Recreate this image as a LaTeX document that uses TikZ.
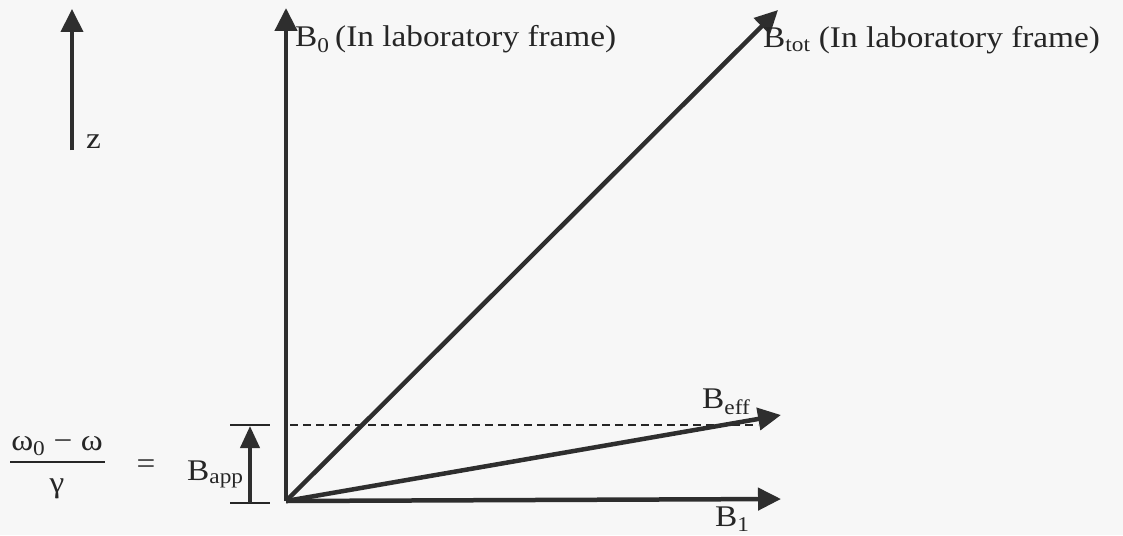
\documentclass[tikz,border=0pt]{standalone}
\usepackage{fontspec}
\usepackage{graphicx}
\setmainfont{Liberation Serif}
\usetikzlibrary{arrows.meta}
\newcommand{\hstretch}[1]{\scalebox{1.11}[1]{#1}}
\begin{document}
\begin{tikzpicture}[x=1pt,y=-1pt,
  vec/.style={line width=4.5pt,draw={black!82},-{Triangle[length=23pt,width=22pt]}},
  lbl/.style={inner sep=0pt,anchor=base west,font=\fontsize{30}{36}\selectfont,text={black!85}},
  tick/.style={line width=1.8pt,draw={black!85}}]
\useasboundingbox (0,0) rectangle (1123,535);
\fill[white!97!black] (0,0) rectangle (1123,535);
% axis z
\coordinate (zs) at (72,150);
\coordinate (ze) at (72,9);
\draw[vec,line width=4pt] (zs) -- (ze);
\node[lbl] (z) at (86,148) {\hstretch{z}};
% origin and vectors
\coordinate (O) at (286,501);
\coordinate (B0t) at (286,8);
\coordinate (Btt) at (778,10);
\coordinate (Beft) at (781,415);
\coordinate (B1t) at (781,499);
\draw[line width=2.2pt,dash pattern=on 8pt off 5pt,draw={black!85}] (290,425) -- (758,425);
\draw[vec] (O) -- (B0t);
\draw[vec] (O) -- (Btt);
\draw[vec] (O) -- (Beft);
\draw[vec] (O) -- (B1t);
\node[lbl] (b0) at (295,47) {\hstretch{B\textsubscript{0}\,(In laboratory frame)}};
\node[lbl] (btot) at (763,48) {\hstretch{B\textsubscript{tot} (In laboratory frame)}};
\node[lbl] (beff) at (702,408) {\hstretch{B\textsubscript{eff}}};
\node[lbl] (b1) at (715,526) {\hstretch{B\textsubscript{1}}};
% B_app
\coordinate (ta) at (250,426);
\coordinate (tb) at (250,503);
\draw[tick] (230,425) -- (270,425);
\draw[tick] (230,503) -- (270,503);
\draw[line width=4pt,draw={black!82},-{Triangle[length=22pt,width=19pt]}] (tb) -- (ta);
\node[lbl] (bapp) at (187,480) {\hstretch{B\textsubscript{app}}};
% fraction
\node[lbl,anchor=base] (num) at (57,450) {\hstretch{ω\textsubscript{0} − ω}};
\draw[tick,line width=1.6pt] (10,462) -- (105,462);
\node[lbl,anchor=base] (den) at (57,492) {\hstretch{γ}};
\node[lbl,anchor=base] (eq) at (146,473) {\hstretch{=}};
\end{tikzpicture}
\end{document}
